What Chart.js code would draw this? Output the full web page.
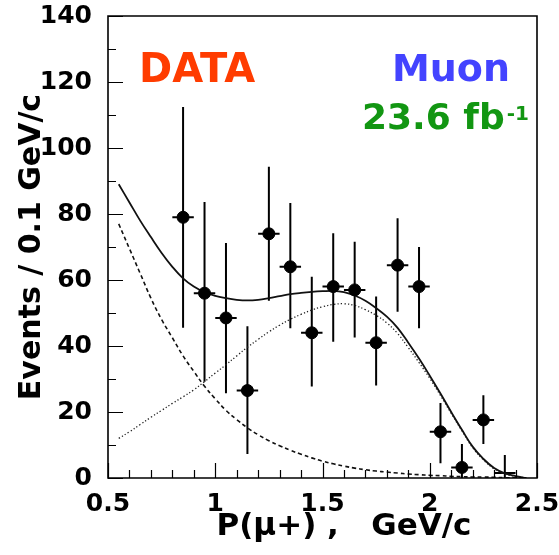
<!DOCTYPE html>
<html>
<head>
<meta charset="utf-8">
<script src="https://cdn.jsdelivr.net/npm/chart.js@4.4.1/dist/chart.umd.min.js"></script>
<style>
  html, body { margin: 0; padding: 0; background: #fff; }
</style>
</head>
<body>
<canvas id="plot" width="559" height="555"></canvas>
<script>
// measured spectrum, 0.1 GeV/c bins
const binCenters = [0.85, 0.95, 1.05, 1.15, 1.25, 1.35, 1.45, 1.55, 1.65, 1.75, 1.85, 1.95, 2.05, 2.15, 2.25, 2.35];
const eventCounts = [79, 56, 48.5, 26.5, 74, 64, 44, 58, 57, 41, 64.5, 58, 14, 3.2, 17.6, 1.5];
const errUp = [33.4, 27.6, 22.7, 19.5, 20.3, 19.3, 17, 16.2, 14.6, 14, 14.2, 12, 8.7, 7.1, 7.5, 5.5];
const errDown = [33.5, 26.8, 22.8, 19.2, 20.3, 18.6, 16.3, 16.7, 14.4, 13, 14.1, 12.6, 9.5, 3.2, 7.3, 1.5];
const binHalfWidth = 0.05;

// fit curves: total, falling background, signal shape
const fitX = [0.55, 0.60, 0.65, 0.70, 0.75, 0.80, 0.85, 0.90, 0.95, 1.00,
              1.05, 1.10, 1.15, 1.20, 1.25, 1.30, 1.35, 1.40, 1.45, 1.50,
              1.55, 1.60, 1.65, 1.70, 1.75, 1.80, 1.85, 1.90, 1.95, 2.00,
              2.05, 2.10, 2.15, 2.20, 2.25, 2.30, 2.35, 2.40, 2.45];
const fitTotal = [89, 83.5, 78, 73, 68.2, 64, 60.5, 58, 56.3, 55.2,
                  54.5, 54, 53.8, 54, 54.5, 55.1, 55.7, 56.1, 56.4, 56.6,
                  56.7, 56.3, 55.3, 53.7, 51.5, 48.9, 45.5, 41, 36.2, 31,
                  25.6, 20, 14.6, 9.5, 5.8, 3, 1.4, 0.6, 0];
const fitBackground = [77, 69.5, 62, 54.5, 48, 42.5, 37, 32.3, 27.8, 24,
                       20.5, 17.7, 15.2, 13.1, 11.3, 9.8, 8.4, 7.2, 6.1, 5.1,
                       4.3, 3.6, 3.0, 2.5, 2.1, 1.8, 1.5, 1.2, 1.0, 0.8,
                       0.7, 0.5, 0.4, 0.3, 0.3, 0.2, 0.1, 0.1, 0];
const fitSignal = [12, 14, 16.2, 18.4, 20.5, 22.6, 24.6, 26.7, 29.2, 31.8,
                   34.3, 37, 39.6, 42, 44.3, 46.3, 48.1, 49.6, 50.9, 51.9,
                   52.6, 52.8, 52.3, 51, 49.3, 47, 43.8, 39.5, 35, 30.2,
                   25, 19.6, 14.3, 9.2, 5.5, 2.8, 1.2, 0.5, 0];

const xTickLabels = ['0.5', '1', '1.5', '2', '2.5'];

const boldFont = 'DejaVu Sans';

const toPoints = (xs, ys) => xs.map((x, i) => ({ x: x, y: ys[i] }));

// error bars, frame, inner ticks and the labels inside the plot
const histoDecor = {
    id: 'histoDecor',
    beforeDatasetsDraw(chart) {
        const ctx = chart.ctx
        const xs = chart.scales.x
        const ys = chart.scales.y
        ctx.save()
        ctx.setLineDash([])
        ctx.strokeStyle = '#000'
        ctx.lineWidth = 2
        binCenters.forEach((x, i) => {
            const px = xs.getPixelForValue(x)
            const py = ys.getPixelForValue(eventCounts[i])
            ctx.beginPath()
            ctx.moveTo(px, ys.getPixelForValue(Math.max(0, eventCounts[i] - errDown[i])))
            ctx.lineTo(px, ys.getPixelForValue(eventCounts[i] + errUp[i]))
            ctx.moveTo(xs.getPixelForValue(x - binHalfWidth), py)
            ctx.lineTo(xs.getPixelForValue(x + binHalfWidth), py)
            ctx.stroke()
        })
        ctx.restore()
    },
    afterDraw(chart) {
        const ctx = chart.ctx
        const { left, right, top, bottom } = chart.chartArea
        const xs = chart.scales.x
        const ys = chart.scales.y
        ctx.save()
        ctx.setLineDash([])
        ctx.strokeStyle = '#000'
        ctx.lineWidth = 1.6
        ctx.beginPath()
        ctx.moveTo(left, top)
        ctx.lineTo(right, top)
        ctx.lineTo(right, bottom)
        ctx.lineTo(left, bottom)
        ctx.closePath()
        ctx.stroke()

        // ticks point into the plot
        ctx.lineWidth = 1.2
        ctx.beginPath()
        for (let k = 0; k <= 20; k++) {
            const px = Math.round(xs.getPixelForValue(0.5 + k * 0.1)) + 0.5
            const len = k % 5 === 0 ? 15 : 8
            ctx.moveTo(px, bottom)
            ctx.lineTo(px, bottom - len)
        }
        for (let k = 0; k <= 14; k++) {
            const py = Math.round(ys.getPixelForValue(k * 10)) + 0.5
            const len = k % 2 === 0 ? 15 : 8
            ctx.moveTo(left, py)
            ctx.lineTo(left + len, py)
        }
        ctx.stroke()

        // x axis title
        ctx.fillStyle = '#000'
        ctx.font = 'bold 31px ' + boldFont
        ctx.textAlign = 'center'
        ctx.textBaseline = 'alphabetic'
        ctx.fillText('P(\u03bc+) ,   GeV/c', left + 0.55 * (right - left), 535)

        // labels
        ctx.font = 'bold 40px ' + boldFont
        ctx.textAlign = 'left'
        ctx.fillStyle = '#ff3c00'
        ctx.fillText('DATA', 139, 82)
        ctx.font = 'bold 38px ' + boldFont
        ctx.textAlign = 'right'
        ctx.fillStyle = '#4343ff'
        ctx.fillText('Muon', 510, 81)

        ctx.fillStyle = '#129612'
        ctx.textAlign = 'left'
        ctx.font = 'bold 36px ' + boldFont
        const lumi = '23.6 fb'
        ctx.fillText(lumi, 362, 129)
        const w = ctx.measureText(lumi).width
        ctx.font = 'bold 20px ' + boldFont
        ctx.fillText('-1', 362 + w + 2, 120)
        ctx.restore()
    }
}

const chart = new Chart(document.getElementById('plot'), {
    type: 'scatter',
    data: {
        datasets: [
            {
                label: 'data',
                data: toPoints(binCenters, eventCounts),
                backgroundColor: '#000',
                borderColor: '#000',
                pointRadius: (c) => (c.raw && c.raw.y < 2 ? 0 : 6),
                pointHoverRadius: 6,
                showLine: false
            },
            {
                label: 'total fit',
                data: toPoints(fitX, fitTotal),
                showLine: true,
                borderColor: '#111',
                borderWidth: 1.8,
                pointRadius: 0,
                tension: 0.4,
                fill: false
            },
            {
                label: 'background',
                data: toPoints(fitX, fitBackground),
                showLine: true,
                borderColor: '#111',
                borderWidth: 1.6,
                borderDash: [4, 3],
                pointRadius: 0,
                tension: 0.4,
                fill: false
            },
            {
                label: 'signal',
                data: toPoints(fitX, fitSignal),
                showLine: true,
                borderColor: '#222',
                borderWidth: 1.3,
                borderDash: [1.3, 2.2],
                pointRadius: 0,
                tension: 0.4,
                fill: false
            }
        ]
    },
    options: {
        responsive: false,
        animation: false,
        devicePixelRatio: 1,
        layout: { padding: { top: 16, right: 22, left: 0, bottom: 0 } },
        plugins: {
            legend: { display: false },
            tooltip: { enabled: false }
        },
        scales: {
            x: {
                type: 'linear',
                min: 0.5,
                max: 2.5,
                grid: { display: false },
                border: { display: false },
                ticks: {
                    stepSize: 0.5,
                    padding: 3,
                    color: '#000',
                    font: { family: boldFont, size: 25, weight: 'bold' },
                    maxRotation: 0,
                    callback: (v, i) => xTickLabels[i]
                },
                afterFit: (s) => {
                    s.height = 77
                    s.paddingLeft = 0
                    s.paddingRight = 0
                }
            },
            y: {
                min: 0,
                max: 140,
                grid: { display: false },
                border: { display: false },
                ticks: {
                    stepSize: 20,
                    padding: 8,
                    color: '#000',
                    font: { family: boldFont, size: 25, weight: 'bold' }
                },
                title: {
                    display: true,
                    text: 'Events / 0.1 GeV/c',
                    color: '#000',
                    font: { family: boldFont, size: 30, weight: 'bold' },
                    padding: { top: 14, bottom: 0 }
                },
                afterFit: (s) => {
                    s.width = 108
                    s.paddingTop = 0
                    s.paddingBottom = 0
                }
            }
        }
    },
    plugins: [histoDecor]
})
</script>
</body>
</html>
